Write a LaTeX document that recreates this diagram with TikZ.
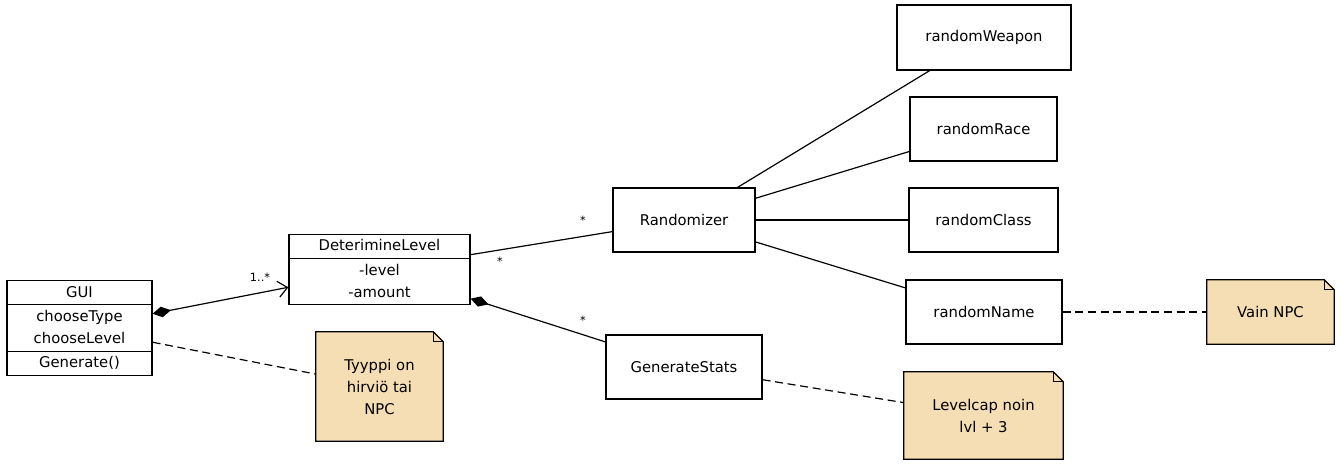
\documentclass[tikz,border=0pt]{standalone}
\usepackage{fontspec}
\setmainfont{DejaVu Sans}
\usetikzlibrary{arrows.meta,
		shapes.multipart,
		backgrounds}

\definecolor{notefill}{RGB}{245,222,179}

\begin{document}
\begin{tikzpicture}[x=0.75pt, y=-0.75pt,
	every node/.style={font=\fontsize{11.1}{16.5}\selectfont},
	cls/.style={draw, line width=0.9pt, minimum height=48pt, inner sep=0pt},
	splitcls/.style={draw, line width=0.9pt, rectangle split, align=center, inner ysep=0.4pt, inner xsep=2pt},
	notebox/.style={align=center, inner sep=0pt},
	notefold/.style={fill=notefill, line width=0.9pt},
	mult/.style={font=\fontsize{8.5}{9}\selectfont, inner sep=1pt},
	link/.style={line width=0.9pt},
	notelink/.style={line width=0.9pt, dash pattern=on 6pt off 3.5pt}]

\useasboundingbox (0,0) rectangle (1341,465);

% classes
\node[splitcls, rectangle split parts=3, minimum width=108.75pt] (gui) at (79.5,328)
	{\strut GUI \nodepart{two} \strut chooseType\\\strut chooseLevel \nodepart{three} \strut Generate()};
\node[splitcls, rectangle split parts=2, minimum width=135.75pt] (level) at (379.5,269.5)
	{\strut DeterimineLevel \nodepart{two} \strut -level\\\strut -amount};
\node[cls, minimum width=106.5pt] (rand) at (684,220) {Randomizer};
\node[cls, minimum width=117pt] (stats) at (684,367) {GenerateStats};
\node[cls, minimum width=130.5pt, minimum height=48.75pt] (weapon) at (984,37.5) {randomWeapon};
\node[cls, minimum width=110.25pt] (race) at (983.5,129) {randomRace};
\node[cls, minimum width=111.75pt] (class) at (983.5,220) {randomClass};
\node[cls, minimum width=117pt] (name) at (984,312) {randomName};

% notes
\node[notebox, minimum width=95.25pt, minimum height=81.75pt] (typenote) at (379.5,386.5) {Tyyppi on\\hirviö tai\\NPC};
\node[notebox, minimum width=119.25pt, minimum height=65.25pt] (capnote) at (983.5,415.5) {Levelcap noin\\lvl + 3};
\node[notebox, minimum width=95.25pt, minimum height=48pt] (npcnote) at (1270.5,312) {Vain NPC};

\begin{scope}[on background layer]
\foreach \n in {typenote, capnote, npcnote} {
	\draw[notefold] (\n.north west) -- ([xshift=-7.5pt]\n.north east) -- ([yshift=-7.5pt]\n.north east)
		-- (\n.south east) -- (\n.south west) -- cycle;
	\draw[line width=0.9pt] ([xshift=-7.5pt]\n.north east) |- ([yshift=-7.5pt]\n.north east);
}
\end{scope}

% associations
\draw[link, {Diamond[length=14pt,width=8pt]}-{Straight Barb[length=7pt,width=12pt]}] (gui) -- (level);
\draw[link] (level) -- (rand);
\draw[link, {Diamond[length=14pt,width=8pt]}-] (level) -- (stats);
\foreach \t in {weapon, race, class, name}
	\draw[link] (rand) -- (\t);

% note links
\draw[notelink] (gui) -- (typenote);
\draw[notelink] (stats) -- (capnote);
\draw[notelink] (name) -- (npcnote);

% multiplicities
\node[mult] (m1) at (260,277) {1..*};
\node[mult] (m2) at (500,261) {*};
\node[mult] (m3) at (583,220) {*};
\node[mult] (m4) at (583,320) {*};

\end{tikzpicture}
\end{document}
